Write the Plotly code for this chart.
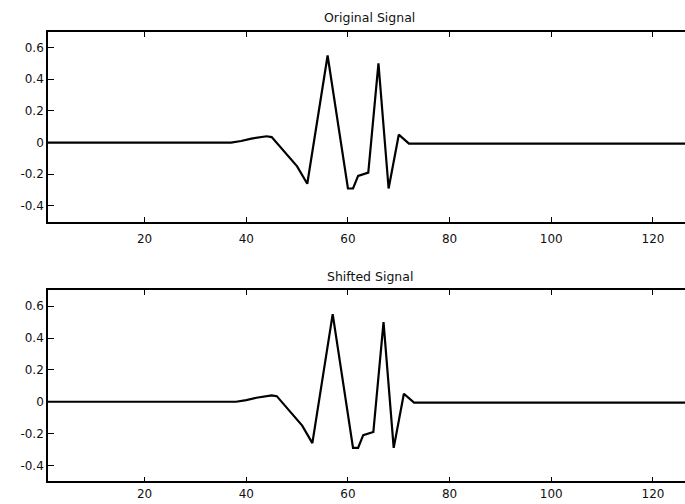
import plotly.graph_objects as go

# Breakpoints of the original signal (sample index, amplitude)
orig_x = [1, 37, 39, 41, 44, 45, 50, 52, 56, 60, 61, 62, 64, 66, 68, 70, 72, 128]
orig_y = [0, 0, 0.01, 0.025, 0.04, 0.035, -0.15, -0.26, 0.55, -0.29, -0.29, -0.21, -0.19, 0.50, -0.29, 0.05, -0.006, -0.006]

# Same signal delayed by one sample
shift_x = [1, 38, 40, 42, 45, 46, 51, 53, 57, 61, 62, 63, 65, 67, 69, 71, 73, 128]
shift_y = [0, 0, 0.01, 0.025, 0.04, 0.035, -0.15, -0.26, 0.55, -0.29, -0.29, -0.21, -0.19, 0.50, -0.29, 0.05, -0.006, -0.006]

titles = ["Original Signal", "Shifted Signal"]
x_ticks = [20, 40, 60, 80, 100, 120]
y_ticks = [0.6, 0.4, 0.2, 0, -0.2, -0.4]
y_tick_text = ["0.6", "0.4", "0.2", "0", "-0.2", "-0.4"]

W, H = 685, 504
fig = go.Figure()

fig.add_trace(go.Scatter(x=orig_x, y=orig_y, mode="lines",
                         line=dict(color="black", width=2.2), xaxis="x", yaxis="y",
                         showlegend=False))
fig.add_trace(go.Scatter(x=shift_x, y=shift_y, mode="lines",
                         line=dict(color="black", width=2.2), xaxis="x2", yaxis="y2",
                         showlegend=False))

family = "DejaVu Sans, Arial, sans-serif"
tick_font = dict(family=family, size=12, color="#111")
title_font = dict(family=family, size=12.5, color="#111")

xaxis_common = dict(range=[1, 126.3], tickvals=x_ticks, ticks="inside", ticklen=5,
                    tickwidth=1.3, tickcolor="black", showline=True, linecolor="black",
                    linewidth=1.6, mirror="ticks", showgrid=False, zeroline=False,
                    tickfont=tick_font, automargin=False, domain=[0, 1])
yaxis_common = dict(range=[-0.5, 0.7], tickvals=y_ticks, ticktext=y_tick_text,
                    ticks="inside", ticklen=6, tickwidth=1.3, tickcolor="black",
                    showline=True, linecolor="black", linewidth=1.6, mirror=False,
                    showgrid=False, zeroline=False, tickfont=tick_font,
                    automargin=False)

fig.update_layout(
    width=W, height=H,
    margin=dict(l=48, r=0, t=0, b=0),
    paper_bgcolor="white", plot_bgcolor="white",
    xaxis=dict(xaxis_common, anchor="y", ticklabelstandoff=5),
    yaxis=dict(yaxis_common, domain=[0.560, 0.937], anchor="x"),
    xaxis2=dict(xaxis_common, anchor="y2", ticklabelstandoff=0),
    yaxis2=dict(yaxis_common, domain=[0.045, 0.424], anchor="x2"),
    annotations=[
        dict(text=titles[0], x=0.505, y=0.937, xref="paper", yref="paper",
             xanchor="center", yanchor="bottom", yshift=5, showarrow=False,
             font=title_font),
        dict(text=titles[1], x=0.505, y=0.424, xref="paper", yref="paper",
             xanchor="center", yanchor="bottom", yshift=4, showarrow=False,
             font=title_font),
    ],
)

fig.write_html("out.html")
